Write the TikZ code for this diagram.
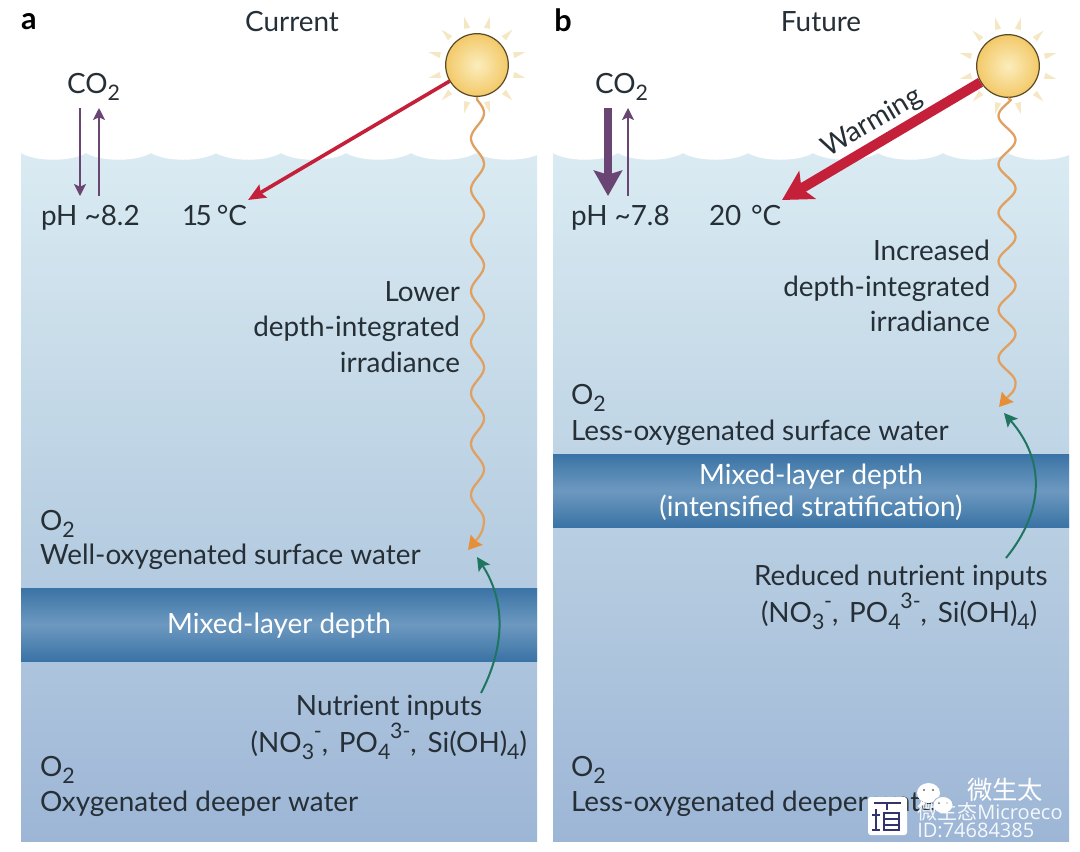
\documentclass[tikz,border=0pt]{standalone}
\usepackage{fontspec}
\setmainfont{Lato}
\newfontfamily\cjk{Noto Sans CJK SC}
\newfontfamily\wmfont{Open Sans}
\usetikzlibrary{arrows.meta,calc}
\definecolor{inkc}{HTML}{262F36}
\definecolor{wtop}{HTML}{DAEBF2}
\definecolor{wmid}{HTML}{BBD1E3}
\definecolor{wbot}{HTML}{9DB6D6}
\definecolor{bandd}{HTML}{3A73A5}
\definecolor{bandm}{HTML}{6D99C0}
\definecolor{redc}{HTML}{C5203A}
\definecolor{purp}{HTML}{6A4472}
\definecolor{greenc}{HTML}{1F7560}
\definecolor{orangec}{HTML}{DFA061}
\definecolor{orangeh}{HTML}{E58F38}
\definecolor{rayc}{HTML}{F6E7C4}
\definecolor{sunin}{HTML}{FBEDBD}
\definecolor{sunout}{HTML}{F3C968}
\definecolor{sunedge}{HTML}{5A4A28}
\newcommand{\sbs}[1]{\raisebox{-5.5pt}{\fontsize{16}{16}\selectfont #1}}
\newcommand{\sps}[1]{\raisebox{10pt}{\fontsize{16}{16}\selectfont #1}}
\tikzset{
  txt/.style={inner sep=0pt,outer sep=0pt,text=inkc,font=\fontsize{20.9}{26.6}\selectfont},
  lbl/.style={txt,anchor=base west},
  lblr/.style={txt,anchor=base east},
  head/.style={inner sep=0pt,font=\bfseries\fontsize{23}{24}\selectfont,text=black},
  water/.style={top color=wtop,bottom color=wbot,middle color=wmid,draw=none},
  band/.style={draw=none,top color=bandd,bottom color=bandd,middle color=bandm},
  sun/.style={circle,draw=sunedge,line width=0.9pt,minimum size=47pt,inner sep=0pt,inner color=sunin,outer color=sunout},
  ray/.style={fill=rayc,draw=none},
  redthin/.style={draw=redc,line width=2.7pt,-{Stealth[length=13pt,width=11pt,inset=2pt]}},
  redthick/.style={draw=redc,line width=7.5pt,-{Stealth[length=22pt,width=24pt,inset=5pt]}},
  purpthin/.style={draw=purp,line width=1.3pt,-{Stealth[length=9pt,width=9pt,inset=2pt]}},
  purpthick/.style={draw=purp,line width=6.5pt,-{Stealth[length=19pt,width=21pt,inset=3pt]}},
  greenar/.style={draw=greenc,line width=1.5pt,-{Stealth[length=10pt,width=10pt,inset=2pt]}},
  wavy/.style={draw=orangec,line width=1.7pt,line join=round},
  wavyhead/.style={-{Stealth[length=10pt,width=11.5pt,inset=1pt,color=orangeh]}},
  wm/.style={inner sep=0pt,text=white,font=\wmfont\fontsize{15}{16}\selectfont},
}
\newcommand{\sunrays}[1]{%
  \foreach \ang in {15,45,...,345}{
    \fill[ray] ($(#1)+(\ang:38)+(\ang+90:3)$) -- ($(#1)+(\ang:50)$) -- ($(#1)+(\ang:38)+(\ang-90:3)$) -- cycle;
  }}
\newcommand{\surface}[1]{%
  \fill[white] (#1,140) -- (#1,153)
    \foreach \k in {0,...,7}{ .. controls ({#1+\k*65+15},162) and ({#1+\k*65+50},162) .. ({#1+(\k+1)*65},153)} -- ({#1+520},153) -- ({#1+520},140) -- cycle;}
\newcommand{\nutr}{(NO\sbs{3}\kern-0.2pt\sps{-},\kern2.8pt\ PO\sbs{4}\kern-0.2pt\sps{3-},\kern2.8pt\ Si(OH)\sbs{4})}
\begin{document}
\begin{tikzpicture}[x=0.75pt,y=-0.75pt]
\useasboundingbox (0,0) rectangle (1080,851);
\fill[white] (0,0) rectangle (1080,851);
% panels
\shade[water] (21,150) rectangle (537,841);
\shade[water] (553,150) rectangle (1069,841);
\begin{scope}
\clip (21,140) rectangle (537,170);
\surface{21}
\end{scope}
\begin{scope}
\clip (553,140) rectangle (1069,170);
\surface{553}
\end{scope}
% bands
\shade[band] (21,588) rectangle (537,661);
\shade[band] (553,454) rectangle (1069,527);
% suns
\coordinate (ca) at (477,65);
\coordinate (cb) at (1008,66);
\sunrays{ca}
\sunrays{cb}
\node[sun] (suna) at (ca) {};
\node[sun] (sunb) at (cb) {};
% red arrows
\coordinate (tipa) at (248,200);
\coordinate (tipb) at (782,200);
\draw[redthin] (suna) -- (tipa);
\draw[redthick] (sunb) -- (tipb);
\node[txt,rotate=30.5] (warm) at (872,123) {Warming};
% titles
\node[head] (la) at (29,22) {a};
\node[head] (lb) at (563,20) {b};
\node[txt] (cur) at (292,22) {Current};
\node[txt] (fut) at (821,22) {Future};
% CO2
\node[lbl] (coa) at (67,93) {CO\sbs{2}};
\node[lbl] (cob) at (595,93) {CO\sbs{2}};
\node[lbl] (pha) at (41,225) {pH \textasciitilde 8.2};
\node[lbl] (phb) at (571,225) {pH \textasciitilde 7.8};
\node[lbl] (ta) at (182,225) {1\kern-2pt 5\kern-1.5pt\ °C};
\node[lbl] (tb) at (709,225) {20\kern2pt\ °C};
\coordinate (a1) at (80,108); \coordinate (a2) at (80,196);
\coordinate (a3) at (99,196); \coordinate (a4) at (99,108);
\coordinate (b1) at (608,108); \coordinate (b2) at (608,196);
\coordinate (b3) at (628,196); \coordinate (b4) at (628,108);
\draw[purpthin] (a1) -- (a2);
\draw[purpthin] (a3) -- (a4);
\draw[purpthick] (b1) -- (b2);
\draw[purpthin] (b3) -- (b4);
% wavy
\coordinate (wa) at (468,550);
\coordinate (wb) at (999,407);
\draw[wavy,wavyhead] (suna.south) -- plot[domain=100:520,samples=170] ({477.5+6.5*cos((\x-113)/50.9*360)},\x) .. controls (484,530) and (480,536) .. (wa);
\draw[wavy,wavyhead] (sunb.south) -- plot[domain=100:382.5,samples=130] ({1007+8.5*cos((\x-140)/48.5*360)},\x) .. controls (1015.5,392) and (1011,393) .. (wb);
% green
\coordinate (ga1) at (481,693); \coordinate (ga2) at (477,557);
\coordinate (gb1) at (1006,558); \coordinate (gb2) at (1004,413);
\draw[greenar] (ga1) .. controls (506,645) and (505,600) .. (ga2);
\draw[greenar] (gb1) .. controls (1045,510) and (1045,460) .. (gb2);
% panel a labels
\node[txt,align=right,anchor=east] (irra) at (460,327) {Lower\\depth-integrated\\irradiance};
\node[lbl] (o2a1) at (40,530) {O\sbs{2}};
\node[lbl] (wella) at (40,564) {Well-oxygenated surface water};
\node[txt,text=white] (mixa) at (279,626) {Mixed-layer depth};
\node[lblr] (nuta) at (482,715) {Nutrient inputs};
\node[lblr] (nuta2) at (527,752) {\nutr};
\node[lbl] (o2a2) at (40,776) {O\sbs{2}};
\node[lbl] (deepa) at (40,811) {Oxygenated deeper water};
% panel b labels
\node[txt,align=right,anchor=east] (irrb) at (990,286) {Increased\\depth-integrated\\irradiance};
\node[lbl] (o2b1) at (571,404) {O\sbs{2}};
\node[lbl] (lessb) at (571,440) {Less-oxygenated surface water};
\node[txt,text=white,align=center] (mixb) at (811,492) {Mixed-layer depth\\[-2.6pt](intensified stratification)};
\node[lbl] (nutb) at (754,585) {Reduced nutrient inputs};
\node[lbl] (nutb2) at (761,622) {\nutr};
\node[lbl] (o2b2) at (571,776) {O\sbs{2}};
\node[lbl] (deepb) at (571,811) {Less-oxygenated deeper water};
% watermark
\fill[white,rounded corners=2pt] (868,797) rectangle (907,835);
\begin{scope}[draw=black!60!blue!60!gray,line width=1.2pt]
\draw (874,803) -- (901,803) (887,803) -- (887,810);
\draw (876,809) -- (876,830) (872,830) -- (880,830) (872,815) -- (880,815);
\draw (884,813) rectangle (899,830) (884,819) -- (899,819) (884,825) -- (899,825);
\end{scope}
\fill[white] (928.5,793) ellipse (11.5 and 10);
\fill[white] (921,801) -- (919,808) -- (926,803) -- cycle;
\fill[black!60] (924,790) circle (1.2) (933,790) circle (1.2);
\filldraw[fill=white,draw=wbot,line width=0.6pt] (943,805) ellipse (10 and 8.5);
\fill[black!60] (939,803) circle (1) (947,803) circle (1);
\node[wm,font=\cjk\fontsize{19}{20}\selectfont] (wm1) at (1005,790) {微生太};
\node[wm,opacity=0.9,anchor=west] (wm2) at (917,812) {{\cjk 微生态}Microeco};
\node[wm,opacity=0.9,anchor=west] (wm3) at (917,830) {ID:74684385};
\end{tikzpicture}
\end{document}
